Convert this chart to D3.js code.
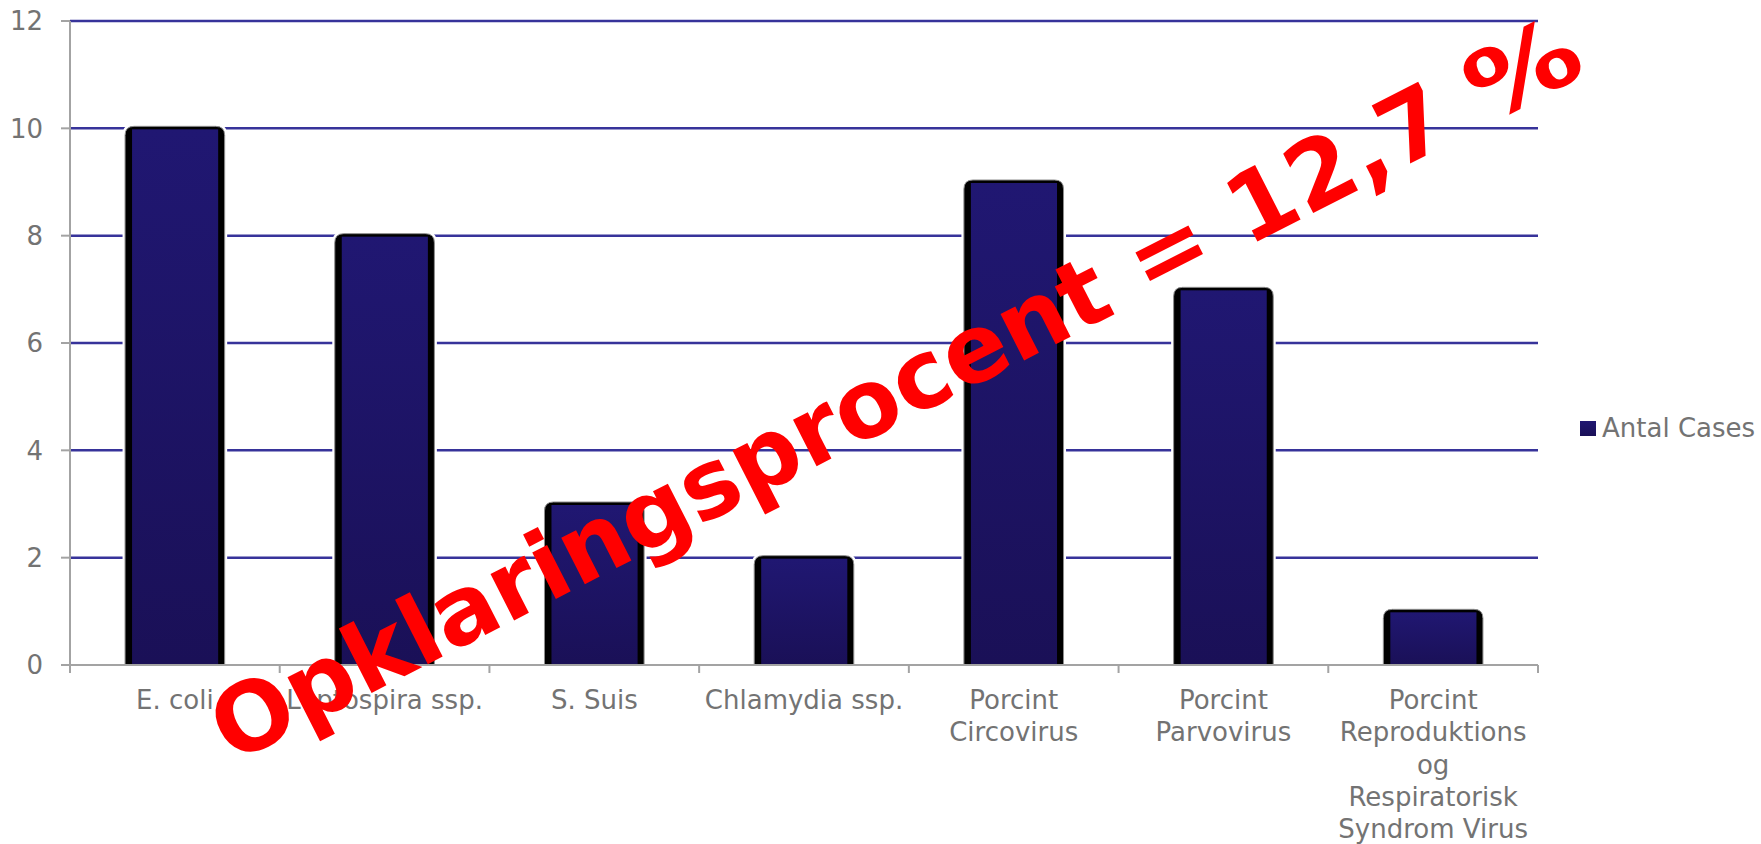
<!DOCTYPE html>
<html>
<head>
<meta charset="utf-8">
<script src="https://cdn.jsdelivr.net/npm/d3@7"></script>
<style>
  body { margin: 0; background: #fff; }
  svg { display: block; font-family: 'DejaVu Sans', Verdana, sans-serif; }
</style>
</head>
<body>
<div class="chart"></div>
<script>
const categories = [
  'E. coli',
  'Leptospira ssp.',
  'S. Suis',
  'Chlamydia ssp.',
  'Porcint Circovirus',
  'Porcint Parvovirus',
  'Porcint Reproduktions og Respiratorisk Syndrom Virus',
];
const antalCases = [10, 8, 3, 2, 9, 7, 1];
const yTicks = [0, 2, 4, 6, 8, 10, 12];
const seriesName = 'Antal Cases';
const stampText = 'Opklaringsprocent = 12,7 ';
const stampSign = '%';

function drawChart() {
  const W = 1761, H = 844;
  const margin = { top: 21, right: 223, bottom: 179, left: 70 };
  const width = W - margin.left - margin.right,
    height = H - margin.top - margin.bottom;
  const axisGrey = '#a3a3a3';
  const textGrey = '#737373';
  const fs = 26;

  const data = categories.map((c, i) => ({ name: c, value: antalCases[i] }));

  const svg = d3
    .select('.chart')
    .append('svg')
    .attr('width', W)
    .attr('height', H);

  const defs = svg.append('defs');
  const grad = defs
    .append('linearGradient')
    .attr('id', 'barFill')
    .attr('x1', 0).attr('y1', 0).attr('x2', 0).attr('y2', 1);
  grad.append('stop').attr('offset', '0%').attr('stop-color', '#201772');
  grad.append('stop').attr('offset', '100%').attr('stop-color', '#1a1057');

  const g = svg
    .append('g')
    .attr('transform', 'translate(' + margin.left + ',' + margin.top + ')');

  const x = d3.scaleBand().domain(categories).range([0, width]).padding(0);
  const y = d3.scaleLinear().domain([0, 12]).range([height, 0]);

  // gridlines
  g.append('g')
    .selectAll('line')
    .data(yTicks.filter((t) => t > 0))
    .enter()
    .append('line')
    .attr('x1', 0)
    .attr('x2', width)
    .attr('y1', (d) => y(d))
    .attr('y2', (d) => y(d))
    .attr('stroke', '#37339a')
    .attr('stroke-width', 2.5);

  // bars: black rounded shell with a navy gradient face
  const barW = x.bandwidth() * 0.475;
  const bars = g
    .append('g')
    .selectAll('.bar')
    .data(data)
    .enter()
    .append('g')
    .attr('class', 'bar')
    .attr('transform', (d) => 'translate(' + (x(d.name) + (x.bandwidth() - barW) / 2) + ',0)');

  function shell(d) {
    const top = y(d.value) - 2, bot = y(0), r = 9;
    return 'M0,' + bot + 'V' + (top + r) + 'Q0,' + top + ' ' + r + ',' + top +
      'H' + (barW - r) + 'Q' + barW + ',' + top + ' ' + barW + ',' + (top + r) +
      'V' + bot + 'Z';
  }

  bars
    .append('path')
    .attr('d', shell)
    .attr('fill', 'none')
    .attr('stroke', '#fff')
    .attr('stroke-width', 5);

  bars
    .append('path')
    .attr('d', shell)
    .attr('fill', '#000')
    .attr('stroke', '#8e8e8e')
    .attr('stroke-width', 1);

  bars
    .append('rect')
    .attr('x', 7)
    .attr('y', (d) => y(d.value) + 1)
    .attr('width', barW - 13.5)
    .attr('height', (d) => y(0) - y(d.value) - 1)
    .attr('fill', 'url(#barFill)');

  // y axis
  const yAxis = g.append('g');
  yAxis
    .append('line')
    .attr('x1', 0).attr('x2', 0)
    .attr('y1', 0).attr('y2', height)
    .attr('stroke', axisGrey)
    .attr('stroke-width', 2);
  yAxis
    .selectAll('.ytick')
    .data(yTicks)
    .enter()
    .append('line')
    .attr('x1', -9).attr('x2', 0)
    .attr('y1', (d) => y(d)).attr('y2', (d) => y(d))
    .attr('stroke', axisGrey)
    .attr('stroke-width', 2);
  yAxis
    .selectAll('.ylabel')
    .data(yTicks)
    .enter()
    .append('text')
    .attr('x', -27)
    .attr('y', (d) => y(d))
    .attr('dy', '0.36em')
    .attr('text-anchor', 'end')
    .attr('fill', textGrey)
    .style('font-size', fs + 'px')
    .text((d) => d);

  // x axis
  const xAxis = g.append('g').attr('transform', 'translate(0,' + height + ')');
  xAxis
    .append('line')
    .attr('x1', 0).attr('x2', width)
    .attr('stroke', axisGrey)
    .attr('stroke-width', 2);
  const bounds = categories.map((c) => x(c)).concat([width]);
  xAxis
    .selectAll('.xtick')
    .data(bounds)
    .enter()
    .append('line')
    .attr('x1', (d) => d).attr('x2', (d) => d)
    .attr('y1', 0).attr('y2', 8)
    .attr('stroke', axisGrey)
    .attr('stroke-width', 2);

  const labels = xAxis
    .selectAll('.xlabel')
    .data(categories)
    .enter()
    .append('text')
    .attr('class', 'xlabel')
    .attr('text-anchor', 'middle')
    .attr('fill', textGrey)
    .style('font-size', fs + 'px')
    .attr('transform', (d) => 'translate(' + (x(d) + x.bandwidth() / 2) + ',44)');
  labels.each(function (d) {
    wrap(d3.select(this), d, x.bandwidth() - 6);
  });

  // legend
  const legend = svg.append('g').attr('transform', 'translate(1580,421)');
  legend
    .append('rect')
    .attr('width', 16)
    .attr('height', 15)
    .attr('fill', 'url(#barFill)');
  legend
    .append('text')
    .attr('x', 22)
    .attr('y', 15.5)
    .attr('fill', textGrey)
    .style('font-size', fs + 'px')
    .text(seriesName);

  // red stamp across the chart
  const stampSize = 95;
  const stamp = svg
    .append('g')
    .attr('transform', 'translate(232,764) rotate(-27)')
    .attr('fill', '#ff0000')
    .style('font-size', stampSize + 'px')
    .style('font-weight', 'bold');
  const main = stamp
    .append('text')
    .attr('x', 0)
    .attr('y', 0)
    .text(stampText.trim());
  const gap = 0.35 * stampSize;
  const len = main.node().getComputedTextLength() + gap;
  const sx = 1.22;
  stamp
    .append('text')
    .attr('transform', 'scale(' + sx + ',1)')
    .attr('x', len / sx)
    .attr('y', 0)
    .text(stampSign);
}

function wrap(text, str, maxW) {
  const words = str.split(' ');
  const lines = [];
  let line = [];
  const probe = text.append('tspan');
  words.forEach((w) => {
    const test = line.concat([w]).join(' ');
    probe.text(test);
    if (line.length && probe.node().getComputedTextLength() > maxW) {
      lines.push(line.join(' '));
      line = [w];
    } else {
      line.push(w);
    }
  });
  lines.push(line.join(' '));
  probe.remove();
  lines.forEach((l, i) => {
    text.append('tspan').attr('x', 0).attr('y', i * 32.3).text(l);
  });
}

drawChart();
</script>
</body>
</html>
